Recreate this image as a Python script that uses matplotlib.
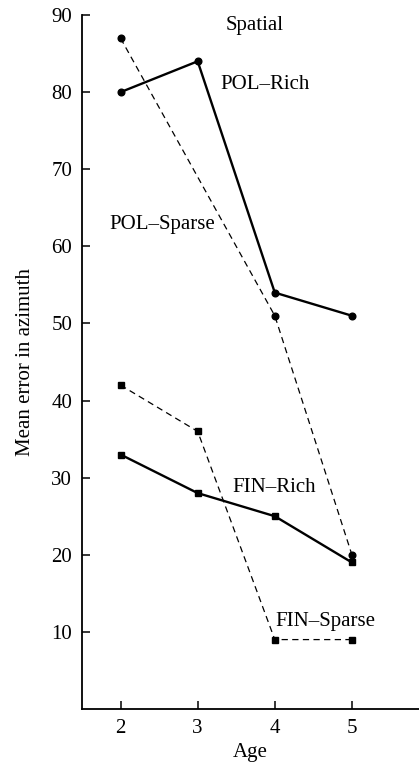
import matplotlib.pyplot as plt

# データ
age = [2, 3, 4, 5]
pol_rich = [80, 84, 54, 51]
pol_sparse = [87, 69, 51, 20]
fin_rich = [33, 28, 25, 19]
fin_sparse = [42, 36, 9, 9]

plt.rcParams["font.family"] = ["Liberation Serif", "DejaVu Serif"]

fig = plt.figure(figsize=(4.19, 7.63), dpi=100)
ax = fig.add_axes([0.1957, 0.0708, 0.8043, 0.9095])

ax.plot(age, pol_rich, color="black", lw=1.7, marker="o", ms=4.8)
ax.plot(age, pol_sparse, color="black", lw=0.9, dashes=(5, 3.5),
        marker="o", ms=4.8, markevery=[0, 2, 3])
ax.plot(age, fin_rich, color="black", lw=1.7, marker="s", ms=3.8)
ax.plot(age, fin_sparse, color="black", lw=0.9, dashes=(5, 3.5),
        marker="s", ms=3.8)

# ラベル
fs = 15
ax.text(3.74, 88.7, "Spatial", fontsize=fs, ha="center", va="center")
ax.text(3.29, 81, "POL\u2013Rich", fontsize=fs, va="center")
ax.text(1.86, 62.8, "POL\u2013Sparse", fontsize=fs, va="center")
ax.text(3.45, 28.7, "FIN\u2013Rich", fontsize=fs, va="center")
ax.text(4.01, 11.3, "FIN\u2013Sparse", fontsize=fs, va="center")

# 軸の設定
ax.set_xlim(1.5, 5.87)
ax.set_ylim(0, 90)
ax.set_xticks(age)
ax.set_yticks([10, 20, 30, 40, 50, 60, 70, 80, 90])
ax.spines["top"].set_visible(False)
ax.spines["right"].set_visible(False)
ax.spines["left"].set_linewidth(1.3)
ax.spines["bottom"].set_linewidth(1.3)
ax.tick_params(axis="both", direction="in", labelsize=fs, length=6, width=1.1, pad=7)
ax.set_xlabel("Age", fontsize=fs, labelpad=4)
ax.set_ylabel("Mean error in azimuth", fontsize=fs, labelpad=12)

fig.savefig("out.png", dpi=100)
